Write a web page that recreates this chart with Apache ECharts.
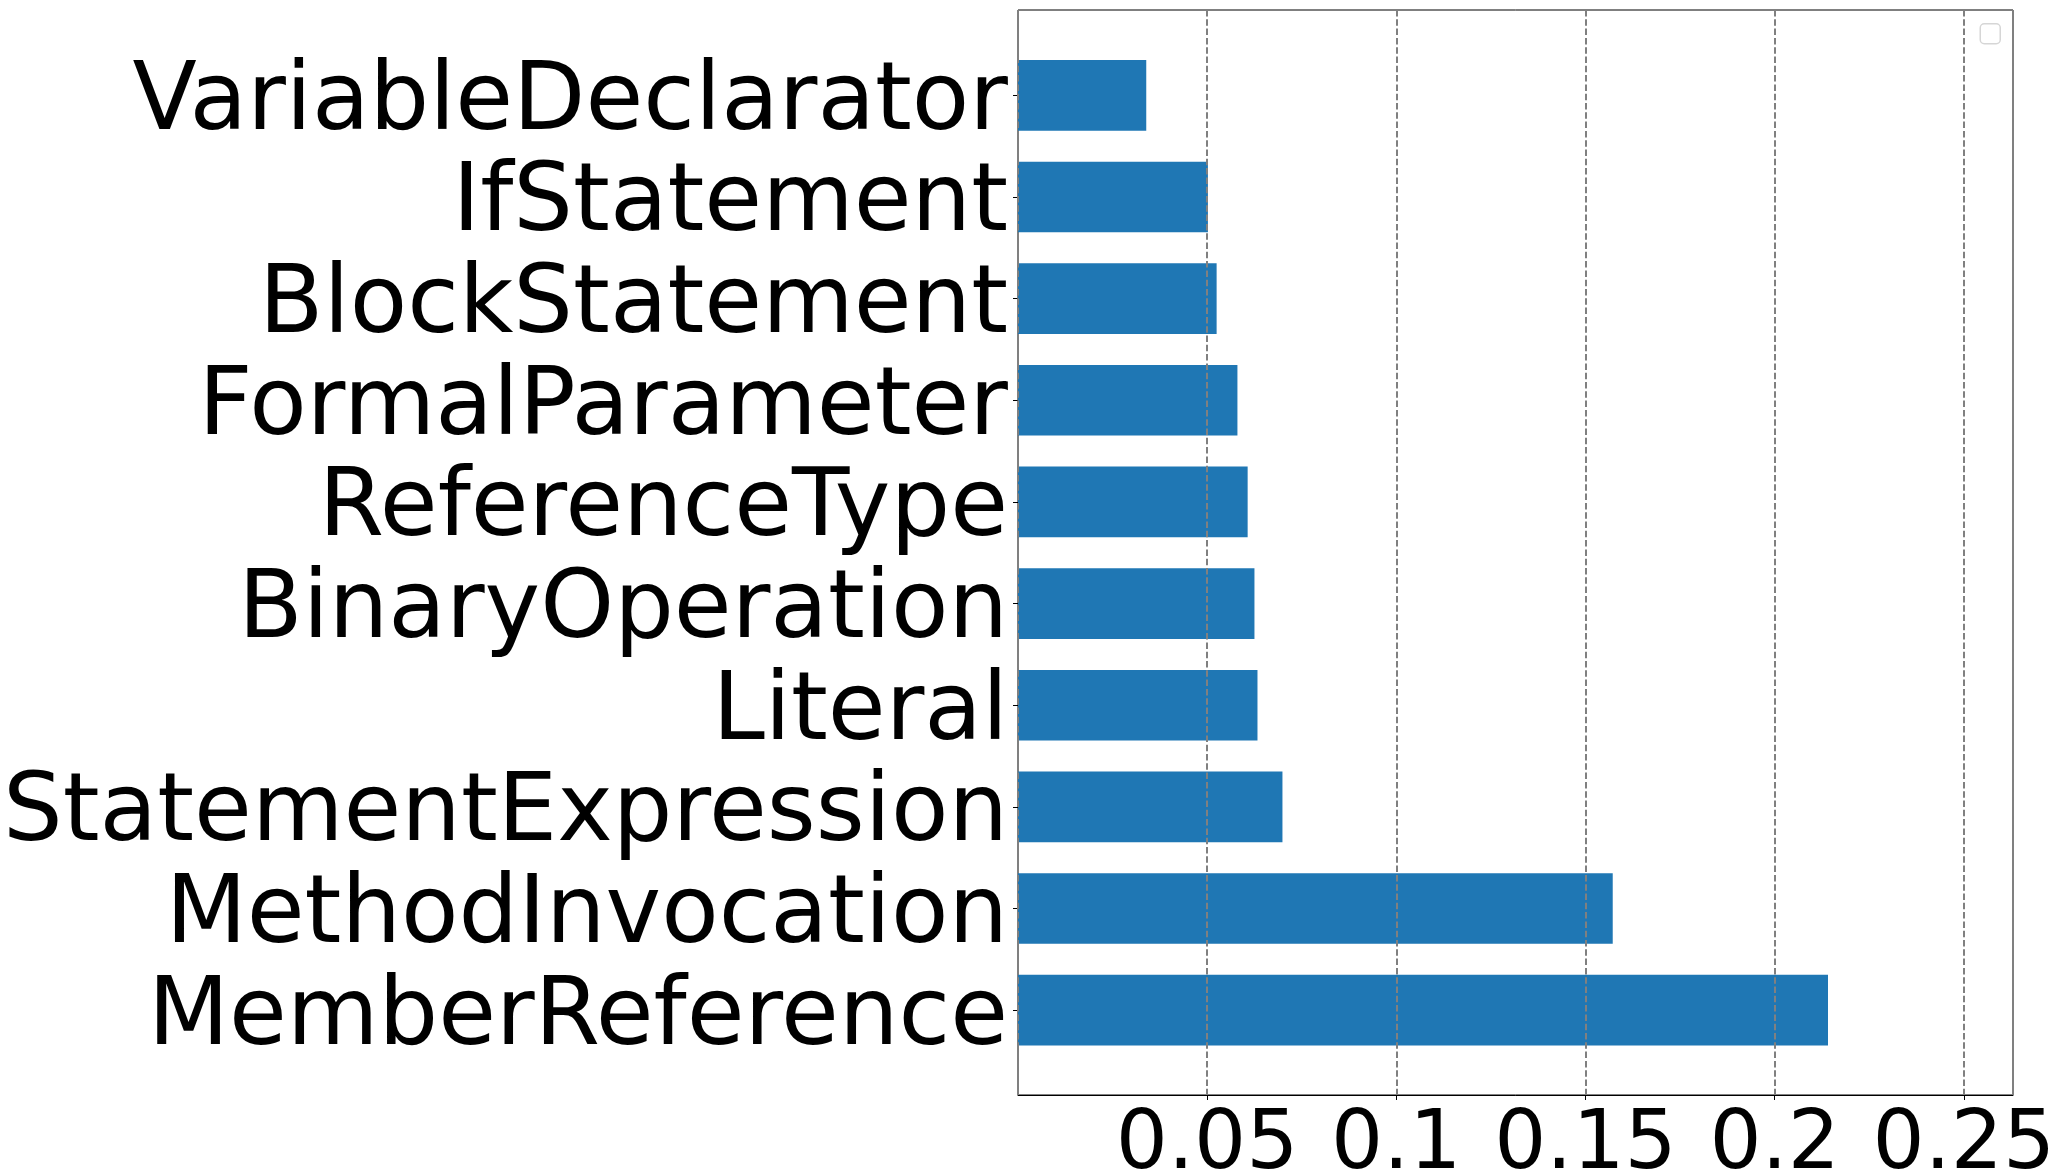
<!DOCTYPE html>
<html>
<head>
<meta charset="utf-8">
<script src="https://cdn.jsdelivr.net/npm/echarts@6/dist/echarts.min.js"></script>
<style>
  html, body { margin: 0; padding: 0; background: #fff; }
  #chart { width: 2048px; height: 1173px; }
</style>
</head>
<body>
<div id="chart"></div>
<script>
// node types, top to bottom as in the figure
const nodeTypes = [
  'VariableDeclarator', 'IfStatement', 'BlockStatement', 'FormalParameter',
  'ReferenceType', 'BinaryOperation', 'Literal', 'StatementExpression',
  'MethodInvocation', 'MemberReference'
]
const shares = [0.0339, 0.0502, 0.0525, 0.0580, 0.0607, 0.0625, 0.0633, 0.0699, 0.1572, 0.2141]
const xMin = 0
const xMax = 0.263
const xStep = 0.05

const font = 'DejaVu Sans'

const option = {
  animation: false,
  grid: [
    // frame, x ticks and dashed grid lines
    {left: 1018, right: 35, top: 10, bottom: 78, containLabel: false, outerBoundsMode: 'none',
      show: true, borderColor: '#000', borderWidth: 1, backgroundColor: 'transparent'},
    // bars and category labels
    {left: 1018, right: 35, top: 44.5, bottom: 112, containLabel: false, outerBoundsMode: 'none'}
  ],
  xAxis: [
    {
      gridIndex: 0, type: 'value', min: xMin, max: xMax, interval: xStep, z: 10,
      axisLine: {show: true, lineStyle: {color: '#000', width: 1}},
      axisTick: {show: true, length: 5, lineStyle: {color: '#000'}},
      axisLabel: {
        show: true, showMinLabel: false, color: '#000', fontSize: 82, fontFamily: font, margin: 11,
        hideOverlap: false,
        formatter: v => v === 0 ? '' : String(+v.toFixed(2))
      },
      splitLine: {show: true, lineStyle: {color: '#808080', width: 2, type: [6.5, 2.8]}}
    },
    {gridIndex: 1, type: 'value', min: xMin, max: xMax, show: false, splitLine: {show: false}}
  ],
  yAxis: [
    {gridIndex: 0, type: 'value', show: false, splitLine: {show: false}},
    {
      gridIndex: 1, type: 'category', inverse: true, data: nodeTypes,
      axisLine: {show: false},
      axisTick: {show: true, length: 5, alignWithLabel: true, interval: 0, lineStyle: {color: '#000'}},
      axisLabel: {color: '#000', fontSize: 94, fontFamily: font, margin: 10, interval: 0, hideOverlap: false,
        verticalAlign: 'top', lineHeight: 18}
    }
  ],
  series: [{
    type: 'bar', xAxisIndex: 1, yAxisIndex: 1, data: shares, barWidth: '69.5%',
    itemStyle: {color: '#1f77b4'}
  }],
  graphic: [{
    // empty matplotlib legend box
    type: 'rect', right: 47, top: 23,
    shape: {width: 20, height: 20, r: 4},
    style: {fill: '#fff', stroke: '#d6d6d6', lineWidth: 1.5}
  }]
}

const chart = echarts.init(document.getElementById('chart'))
chart.setOption(option)
window.addEventListener('resize', function () {
  chart.resize()
})
</script>
</body>
</html>
